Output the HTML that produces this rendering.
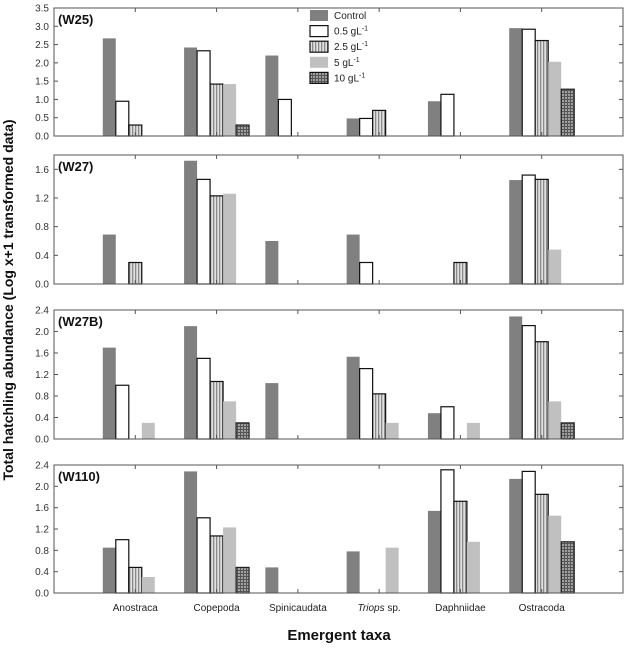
<!DOCTYPE html>
<html><head><meta charset="utf-8"><style>
html,body{margin:0;padding:0;background:#fff;}
svg{display:block;font-family:"Liberation Sans",sans-serif;}
</style></head><body>
<svg id="chart" width="625" height="648" viewBox="0 0 625 648">
<defs>
<pattern id="stripes" width="3" height="4" patternUnits="userSpaceOnUse">
<rect width="3" height="4" fill="#e0e0e0"/><rect width="1.3" height="4" fill="#8a8a8a"/>
</pattern>
<pattern id="hatch" width="3" height="3" patternUnits="userSpaceOnUse">
<rect width="3" height="3" fill="#a0a0a0"/><rect width="3" height="1" fill="#555"/><rect width="1" height="3" fill="#555"/>
</pattern>
</defs>
</svg>
<script>
const categories = ["Anostraca","Copepoda","Spinicaudata","Triops","Daphniidae","Ostracoda"];
const seriesNames = ["Control","0.5 gL","2.5 gL","5 gL","10 gL"];
const panelNames = ["(W25)","(W27)","(W27B)","(W110)"];
const panelMax = [3.5,1.8,2.4,2.4];
const panelTicks = [[0,0.5,1,1.5,2,2.5,3,3.5],[0,0.4,0.8,1.2,1.6],[0,0.4,0.8,1.2,1.6,2.0,2.4],[0,0.4,0.8,1.2,1.6,2.0,2.4]];
const w25 = [[2.67,0.95,0.30,0,0],[2.42,2.33,1.42,1.42,0.30],[2.20,1.00,0,0,0],[0.48,0.48,0.70,0,0],[0.95,1.14,0,0,0],[2.95,2.92,2.61,2.03,1.28]];
const w27 = [[0.69,0,0.30,0,0],[1.72,1.46,1.23,1.26,0],[0.60,0,0,0,0],[0.69,0.30,0,0,0],[0,0,0.30,0,0],[1.45,1.52,1.46,0.48,0]];
const w27b = [[1.70,1.00,0,0.30,0],[2.10,1.50,1.07,0.70,0.30],[1.04,0,0,0,0],[1.53,1.31,0.84,0.30,0],[0.48,0.60,0,0.30,0],[2.28,2.11,1.81,0.70,0.30]];
const w110 = [[0.85,1.00,0.48,0.30,0],[2.28,1.41,1.07,1.23,0.48],[0.48,0,0,0,0],[0.78,0,0,0.85,0],[1.54,2.31,1.72,0.96,0],[2.14,2.28,1.85,1.45,0.96]];
const panelData = [w25,w27,w27b,w110];

const NS="http://www.w3.org/2000/svg";
const svg=document.getElementById('chart');
function mk(tag,attrs,parent){const e=document.createElementNS(NS,tag);for(const k in attrs)e.setAttribute(k,attrs[k]);(parent||svg).appendChild(e);return e;}
const fills=["#808080","#ffffff","url(#stripes)","#c0c0c0","url(#hatch)"];
const strokes=["none","#111","#111","none","#222"];
const L=54,R=623,panelTop=[8,155,310,465],panelBot=[136,284,439,593];
const step=(R-L)/(categories.length+1);
function xCat(i){return L+step*(i+1);}
const barW=13;

panelData.forEach((data,p)=>{
  const top=panelTop[p],bot=panelBot[p];
  const y=v=>bot-(v/panelMax[p])*(bot-top);
  const g=mk('g',{});
  
  
  data.forEach((vals,ci)=>{
    vals.forEach((v,si)=>{
      if(v<=0)return;
      const x=xCat(ci)-2.5*barW+si*barW;
      const r=mk('rect',{x:x,y:y(v),width:barW,height:bot-y(v),fill:fills[si],stroke:strokes[si],'stroke-width':1.2},g);
      
      
    });
  });
  const fr=mk('rect',{x:L,y:top,width:R-L,height:bot-top,fill:'none',stroke:'#555','stroke-width':1},g);
  
  
  panelTicks[p].forEach(t=>{
    mk('line',{x1:L,x2:L+4,y1:y(t),y2:y(t),stroke:'#555'},g);
    mk('line',{x1:R,x2:R-4,y1:y(t),y2:y(t),stroke:'#555'},g);
    const tl=mk('text',{x:L-5,y:y(t)+3.5,'text-anchor':'end','font-size':10,fill:'#333'},g);
    tl.textContent=t.toFixed(1);
    
    
  });
  categories.forEach((c,ci)=>{
    mk('line',{x1:xCat(ci),x2:xCat(ci),y1:top,y2:top+4,stroke:'#555'},g);
    mk('line',{x1:xCat(ci),x2:xCat(ci),y1:bot,y2:bot-4,stroke:'#555'},g);
  });
  const pl=mk('text',{x:58,y:top+16,'font-size':13,'font-weight':'bold',fill:'#111'},g);
  pl.textContent=panelNames[p];
  
  
});

categories.forEach((c,ci)=>{
  const t=mk('text',{x:xCat(ci),y:611,'text-anchor':'middle','font-size':10,fill:'#222'});
  if(c==="Triops"){const a=mk('tspan',{'font-style':'italic'},t);a.textContent="Triops";const b=mk('tspan',{},t);b.textContent=" sp.";}
  else t.textContent=c;
  
  
});

const lg=mk('g',{});


const lblText=["Control","0.5 gL","2.5 gL","5 gL","10 gL"];
seriesNames.forEach((n,si)=>{
  const yy=10+si*15.6;
  const e=mk('g',{},lg);
  
  
  mk('rect',{x:310,y:yy,width:18,height:11,fill:fills[si],stroke:si===0||si===3?'none':'#111','stroke-width':1.2},e);
  const t=mk('text',{x:334,y:yy+9,'font-size':10,fill:'#222'},e);
  t.textContent=lblText[si];
  if(si>0){const s=mk('tspan',{dy:-4,'font-size':7},t);s.textContent="-1";}
});

const yt=mk('text',{x:0,y:0,transform:'translate(13,300) rotate(-90)','text-anchor':'middle','font-size':14,'font-weight':'bold',fill:'#111'});
yt.textContent="Total hatchling abundance (Log x+1 transformed data)";


const xt=mk('text',{x:339,y:640,'text-anchor':'middle','font-size':15,'font-weight':'bold',fill:'#111'});
xt.textContent="Emergent taxa";


</script>
</body></html>
